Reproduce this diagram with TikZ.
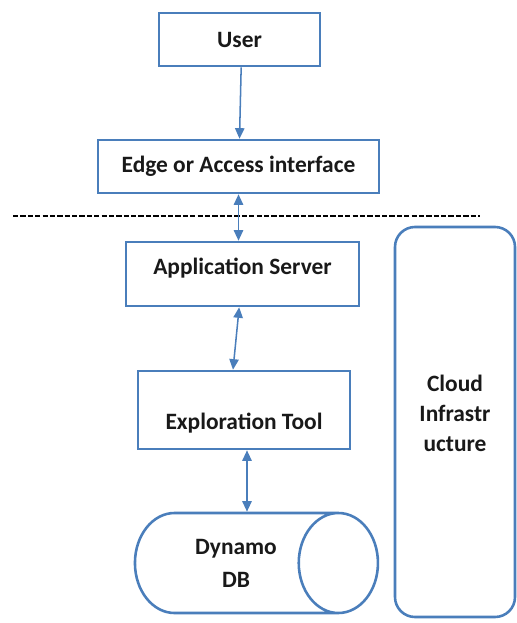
\documentclass[tikz,border=0pt]{standalone}
\usepackage{fontspec}
\setmainfont{Carlito}
\usepackage{xcolor}
\usetikzlibrary{shapes.geometric, positioning, arrows.meta, calc}

\definecolor{boxblue}{RGB}{74,126,187}

\begin{document}
\begin{tikzpicture}[x=0.03cm, y=-0.03cm,
    every node/.style={font=\fontsize{20}{26}\selectfont\bfseries, text=black!90},
    box/.style={draw=boxblue, line width=2.2pt, rectangle, inner sep=0pt},
    link/.style={draw=boxblue, line width=1.3pt, -{Triangle[length=9pt, width=8pt]}},
    dlink/.style={draw=boxblue, line width=1.3pt, {Triangle[length=9pt, width=8pt]}-{Triangle[length=9pt, width=8pt]}}]
        \useasboundingbox (0,0) rectangle (517,623);

        % The boxes
        \node[box, minimum width=4.83cm, minimum height=1.59cm] (user) at (239.5,39.5) {User};
        \node[box, minimum width=8.43cm, minimum height=1.59cm] (edge) at (238.5,166.5) {Edge or Access interface};
        \node[box, minimum width=6.99cm, minimum height=1.92cm,
              label={[yshift=0.18cm]center:Application Server}] (app) at (242.5,274) {};
        \node[box, minimum width=6.36cm, minimum height=2.34cm,
              label={[yshift=-0.39cm]center:Exploration Tool}] (explore) at (244,410) {};

        % The database and the cloud
        \node[cylinder, draw=boxblue, line width=2.2pt, aspect=1.65, align=center,
              font=\fontsize{20}{28}\selectfont\bfseries,
              minimum width=3cm, minimum height=7.29cm, inner sep=0pt] (db) at (236,563) {Dynamo\\DB};
        \node[box, rounded corners=0.6cm, minimum width=3.6cm, minimum height=11.7cm,
              label={[align=center, yshift=0.27cm, font=\fontsize{20}{25.5}\selectfont\bfseries]center:Cloud\\Infrastr\\ucture}] (cloud) at (455,422) {};

        % The dashed border
        \coordinate (dashl) at (13,216);
        \coordinate (dashr) at (480,216);
        \draw[line width=1pt, dash pattern=on 4.5pt off 1.8pt] (dashl) -- (dashr);

        % The arrows
        \draw[link] ([xshift=0.05cm]user.south) -- ([xshift=0.03cm]edge.north);
        \draw[dlink] (edge.south) -- (edge.south |- app.north);
        \draw[dlink] ([xshift=-0.1cm]app.south) -- ([xshift=-0.33cm]explore.north);
        \draw[dlink] ([xshift=0.09cm]explore.south) -- ([xshift=0.09cm]explore.south |- db.north);
\end{tikzpicture}
\end{document}
